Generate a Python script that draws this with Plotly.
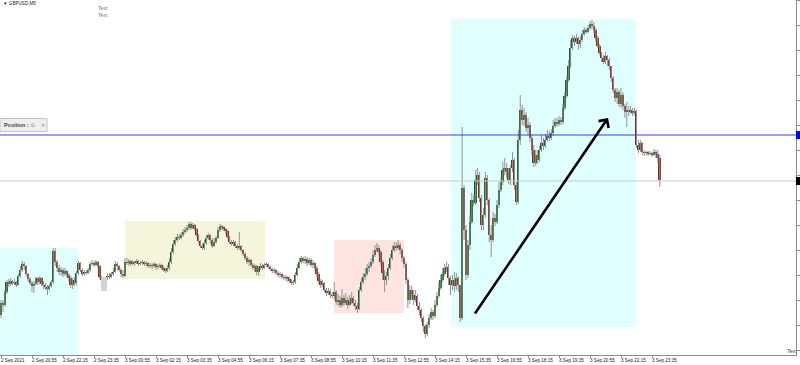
import plotly.graph_objects as go

# ---------------- data (GBPUSD, M5) ----------------
bar_index = list(range(341))

open_ = [
 1.38685,1.38697,1.38695,1.38708,1.38718,1.38716,1.38719,1.38717,1.38718,1.38715,
 1.38724,1.38730,1.38736,1.38734,1.38726,1.38721,1.38717,1.38714,1.38716,1.38722,
 1.38718,1.38722,1.38716,1.38715,1.38713,1.38711,1.38714,1.38718,1.38749,1.38738,
 1.38732,1.38728,1.38730,1.38726,1.38729,1.38725,1.38722,1.38715,1.38720,1.38717,
 1.38727,1.38737,1.38730,1.38726,1.38728,1.38727,1.38730,1.38736,1.38737,1.38735,
 1.38738,1.38734,1.38723,1.38720,1.38718,1.38721,1.38724,1.38723,1.38726,1.38728,
 1.38736,1.38734,1.38730,1.38726,1.38724,1.38738,1.38737,1.38739,1.38736,1.38738,
 1.38737,1.38739,1.38736,1.38737,1.38738,1.38736,1.38737,1.38734,1.38735,1.38734,
 1.38736,1.38733,1.38734,1.38735,1.38732,1.38730,1.38729,1.38732,1.38738,1.38748,
 1.38756,1.38760,1.38763,1.38762,1.38765,1.38768,1.38770,1.38772,1.38776,1.38772,
 1.38775,1.38771,1.38765,1.38759,1.38754,1.38752,1.38757,1.38762,1.38765,1.38760,
 1.38754,1.38758,1.38762,1.38770,1.38774,1.38773,1.38771,1.38769,1.38763,1.38758,
 1.38756,1.38758,1.38754,1.38752,1.38754,1.38750,1.38746,1.38742,1.38738,1.38740,
 1.38735,1.38732,1.38734,1.38728,1.38732,1.38734,1.38732,1.38735,1.38736,1.38733,
 1.38731,1.38729,1.38730,1.38727,1.38725,1.38726,1.38723,1.38722,1.38723,1.38721,
 1.38719,1.38717,1.38718,1.38725,1.38732,1.38738,1.38742,1.38739,1.38741,1.38737,
 1.38740,1.38735,1.38737,1.38732,1.38726,1.38719,1.38715,1.38717,1.38710,1.38707,
 1.38709,1.38705,1.38704,1.38708,1.38698,1.38700,1.38695,1.38702,1.38697,1.38700,
 1.38695,1.38698,1.38702,1.38697,1.38694,1.38691,1.38710,1.38718,1.38723,1.38726,
 1.38732,1.38734,1.38738,1.38745,1.38750,1.38752,1.38748,1.38738,1.38727,1.38720,
 1.38724,1.38732,1.38742,1.38750,1.38754,1.38752,1.38755,1.38750,1.38742,1.38736,
 1.38720,1.38700,1.38710,1.38705,1.38700,1.38704,1.38694,1.38690,1.38682,1.38674,
 1.38666,1.38675,1.38682,1.38688,1.38684,1.38695,1.38704,1.38712,1.38720,1.38726,
 1.38732,1.38733,1.38722,1.38715,1.38720,1.38714,1.38722,1.38715,1.38682,1.38812,
 1.38770,1.38725,1.38755,1.38778,1.38800,1.38797,1.38820,1.38825,1.38802,1.38775,
 1.38785,1.38822,1.38800,1.38765,1.38760,1.38782,1.38778,1.38795,1.38810,1.38818,
 1.38830,1.38832,1.38828,1.38820,1.38832,1.38840,1.38815,1.38798,1.38860,1.38890,
 1.38880,1.38885,1.38872,1.38875,1.38862,1.38850,1.38837,1.38845,1.38840,1.38850,
 1.38857,1.38854,1.38860,1.38864,1.38862,1.38867,1.38874,1.38878,1.38876,1.38880,
 1.38878,1.38892,1.38904,1.38920,1.38934,1.38952,1.38962,1.38958,1.38962,1.38956,
 1.38960,1.38966,1.38970,1.38968,1.38972,1.38976,1.38974,1.38970,1.38962,1.38954,
 1.38947,1.38942,1.38938,1.38944,1.38940,1.38934,1.38922,1.38910,1.38902,1.38908,
 1.38896,1.38905,1.38894,1.38888,1.38890,1.38888,1.38890,1.38887,1.38889,1.38855,
 1.38850,1.38857,1.38848,1.38847,1.38848,1.38846,1.38847,1.38845,1.38848,1.38846,
 1.38842,
]

high = [
 1.38700,1.38700,1.38710,1.38720,1.38721,1.38722,1.38720,1.38721,1.38719,1.38726,
 1.38734,1.38739,1.38738,1.38735,1.38727,1.38723,1.38719,1.38719,1.38723,1.38723,
 1.38724,1.38723,1.38719,1.38717,1.38715,1.38716,1.38720,1.38752,1.38752,1.38740,
 1.38735,1.38733,1.38732,1.38732,1.38730,1.38727,1.38724,1.38722,1.38723,1.38729,
 1.38739,1.38738,1.38732,1.38730,1.38730,1.38732,1.38738,1.38740,1.38739,1.38740,
 1.38739,1.38735,1.38724,1.38722,1.38723,1.38726,1.38727,1.38728,1.38732,1.38739,
 1.38738,1.38735,1.38732,1.38730,1.38742,1.38742,1.38741,1.38740,1.38740,1.38739,
 1.38741,1.38740,1.38739,1.38740,1.38739,1.38739,1.38738,1.38737,1.38737,1.38738,
 1.38737,1.38736,1.38737,1.38736,1.38734,1.38732,1.38735,1.38742,1.38752,1.38760,
 1.38763,1.38766,1.38766,1.38768,1.38771,1.38773,1.38775,1.38778,1.38778,1.38777,
 1.38776,1.38772,1.38766,1.38760,1.38756,1.38760,1.38765,1.38767,1.38766,1.38762,
 1.38762,1.38764,1.38773,1.38776,1.38775,1.38774,1.38772,1.38770,1.38764,1.38760,
 1.38760,1.38759,1.38756,1.38768,1.38755,1.38751,1.38748,1.38744,1.38742,1.38741,
 1.38737,1.38736,1.38735,1.38734,1.38737,1.38736,1.38737,1.38738,1.38737,1.38735,
 1.38732,1.38732,1.38731,1.38729,1.38728,1.38727,1.38725,1.38725,1.38724,1.38723,
 1.38721,1.38720,1.38728,1.38736,1.38742,1.38744,1.38743,1.38744,1.38743,1.38742,
 1.38742,1.38740,1.38738,1.38734,1.38728,1.38721,1.38720,1.38718,1.38712,1.38712,
 1.38711,1.38708,1.38718,1.38710,1.38706,1.38704,1.38711,1.38705,1.38707,1.38703,
 1.38705,1.38708,1.38704,1.38700,1.38697,1.38713,1.38722,1.38727,1.38732,1.38736,
 1.38738,1.38742,1.38750,1.38755,1.38757,1.38755,1.38750,1.38740,1.38730,1.38728,
 1.38736,1.38746,1.38755,1.38758,1.38758,1.38760,1.38757,1.38752,1.38744,1.38738,
 1.38722,1.38715,1.38714,1.38710,1.38710,1.38706,1.38698,1.38692,1.38684,1.38676,
 1.38678,1.38686,1.38692,1.38690,1.38700,1.38708,1.38718,1.38725,1.38732,1.38736,
 1.38738,1.38736,1.38724,1.38725,1.38728,1.38727,1.38724,1.38715,1.38873,1.38815,
 1.38775,1.38760,1.38785,1.38807,1.38805,1.38830,1.38832,1.38828,1.38805,1.38792,
 1.38828,1.38825,1.38802,1.38775,1.38788,1.38786,1.38800,1.38818,1.38822,1.38838,
 1.38842,1.38837,1.38832,1.38835,1.38848,1.38842,1.38818,1.38870,1.38905,1.38895,
 1.38892,1.38888,1.38882,1.38878,1.38865,1.38855,1.38850,1.38850,1.38854,1.38865,
 1.38862,1.38866,1.38870,1.38869,1.38871,1.38880,1.38882,1.38882,1.38884,1.38883,
 1.38896,1.38908,1.38924,1.38940,1.38960,1.38965,1.38964,1.38966,1.38963,1.38964,
 1.38970,1.38973,1.38972,1.38975,1.38979,1.38980,1.38978,1.38972,1.38964,1.38956,
 1.38948,1.38945,1.38948,1.38945,1.38942,1.38934,1.38924,1.38912,1.38912,1.38910,
 1.38912,1.38908,1.38896,1.38898,1.38894,1.38894,1.38892,1.38892,1.38890,1.38860,
 1.38860,1.38858,1.38850,1.38849,1.38849,1.38849,1.38848,1.38851,1.38850,1.38850,
 1.38845,
]

low = [
 1.38682,1.38688,1.38693,1.38706,1.38713,1.38714,1.38715,1.38715,1.38713,1.38714,
 1.38722,1.38728,1.38730,1.38724,1.38718,1.38715,1.38708,1.38707,1.38715,1.38715,
 1.38716,1.38714,1.38711,1.38710,1.38705,1.38709,1.38712,1.38716,1.38734,1.38728,
 1.38725,1.38724,1.38723,1.38724,1.38722,1.38719,1.38712,1.38711,1.38714,1.38715,
 1.38725,1.38728,1.38724,1.38724,1.38725,1.38726,1.38728,1.38734,1.38733,1.38734,
 1.38732,1.38721,1.38717,1.38715,1.38716,1.38720,1.38721,1.38722,1.38724,1.38727,
 1.38730,1.38728,1.38723,1.38722,1.38723,1.38735,1.38734,1.38734,1.38735,1.38734,
 1.38736,1.38734,1.38735,1.38735,1.38734,1.38734,1.38732,1.38732,1.38731,1.38732,
 1.38730,1.38731,1.38732,1.38730,1.38728,1.38727,1.38728,1.38730,1.38736,1.38746,
 1.38754,1.38758,1.38760,1.38761,1.38763,1.38766,1.38768,1.38770,1.38770,1.38771,
 1.38769,1.38763,1.38757,1.38752,1.38750,1.38750,1.38755,1.38760,1.38756,1.38752,
 1.38753,1.38756,1.38761,1.38768,1.38770,1.38769,1.38766,1.38761,1.38756,1.38754,
 1.38754,1.38752,1.38750,1.38750,1.38748,1.38744,1.38740,1.38736,1.38734,1.38733,
 1.38730,1.38728,1.38725,1.38724,1.38730,1.38730,1.38731,1.38733,1.38731,1.38729,
 1.38727,1.38727,1.38725,1.38723,1.38722,1.38721,1.38720,1.38719,1.38718,1.38717,
 1.38715,1.38715,1.38716,1.38724,1.38731,1.38736,1.38737,1.38736,1.38734,1.38735,
 1.38733,1.38732,1.38730,1.38723,1.38716,1.38712,1.38713,1.38708,1.38704,1.38705,
 1.38702,1.38702,1.38700,1.38695,1.38694,1.38692,1.38693,1.38694,1.38695,1.38691,
 1.38694,1.38696,1.38694,1.38690,1.38687,1.38690,1.38708,1.38716,1.38720,1.38724,
 1.38728,1.38732,1.38736,1.38743,1.38748,1.38745,1.38735,1.38720,1.38708,1.38715,
 1.38720,1.38730,1.38740,1.38748,1.38749,1.38750,1.38746,1.38738,1.38732,1.38716,
 1.38692,1.38696,1.38700,1.38695,1.38698,1.38690,1.38685,1.38678,1.38668,1.38662,
 1.38664,1.38672,1.38680,1.38680,1.38682,1.38693,1.38702,1.38710,1.38718,1.38724,
 1.38728,1.38715,1.38705,1.38710,1.38708,1.38710,1.38708,1.38678,1.38680,1.38760,
 1.38720,1.38722,1.38750,1.38776,1.38794,1.38795,1.38815,1.38798,1.38770,1.38770,
 1.38782,1.38795,1.38758,1.38743,1.38758,1.38774,1.38776,1.38792,1.38808,1.38815,
 1.38825,1.38822,1.38816,1.38815,1.38828,1.38810,1.38795,1.38796,1.38855,1.38875,
 1.38874,1.38868,1.38865,1.38858,1.38845,1.38833,1.38834,1.38836,1.38838,1.38848,
 1.38850,1.38852,1.38858,1.38859,1.38860,1.38864,1.38872,1.38873,1.38874,1.38875,
 1.38876,1.38890,1.38902,1.38918,1.38932,1.38950,1.38954,1.38956,1.38950,1.38952,
 1.38958,1.38964,1.38966,1.38967,1.38970,1.38971,1.38967,1.38958,1.38952,1.38945,
 1.38938,1.38936,1.38936,1.38934,1.38930,1.38918,1.38907,1.38898,1.38896,1.38893,
 1.38892,1.38890,1.38882,1.38873,1.38884,1.38886,1.38884,1.38885,1.38852,1.38847,
 1.38848,1.38845,1.38844,1.38845,1.38844,1.38845,1.38843,1.38844,1.38842,1.38838,
 1.38813,
]

close = [
 1.38697,1.38695,1.38708,1.38718,1.38716,1.38719,1.38717,1.38718,1.38715,1.38724,
 1.38730,1.38736,1.38734,1.38726,1.38721,1.38717,1.38714,1.38716,1.38722,1.38718,
 1.38722,1.38716,1.38715,1.38713,1.38711,1.38714,1.38718,1.38749,1.38738,1.38732,
 1.38728,1.38730,1.38726,1.38729,1.38725,1.38722,1.38715,1.38720,1.38717,1.38727,
 1.38737,1.38730,1.38726,1.38728,1.38727,1.38730,1.38736,1.38737,1.38735,1.38738,
 1.38734,1.38723,1.38720,1.38718,1.38721,1.38724,1.38723,1.38726,1.38728,1.38736,
 1.38734,1.38730,1.38726,1.38724,1.38738,1.38737,1.38739,1.38736,1.38738,1.38737,
 1.38739,1.38736,1.38737,1.38738,1.38736,1.38737,1.38734,1.38735,1.38734,1.38736,
 1.38733,1.38734,1.38735,1.38732,1.38730,1.38729,1.38732,1.38738,1.38748,1.38756,
 1.38760,1.38763,1.38762,1.38765,1.38768,1.38770,1.38772,1.38776,1.38772,1.38775,
 1.38771,1.38765,1.38759,1.38754,1.38752,1.38757,1.38762,1.38765,1.38760,1.38754,
 1.38758,1.38762,1.38770,1.38774,1.38773,1.38771,1.38769,1.38763,1.38758,1.38756,
 1.38758,1.38754,1.38752,1.38754,1.38750,1.38746,1.38742,1.38738,1.38740,1.38735,
 1.38732,1.38734,1.38728,1.38732,1.38734,1.38732,1.38735,1.38736,1.38733,1.38731,
 1.38729,1.38730,1.38727,1.38725,1.38726,1.38723,1.38722,1.38723,1.38721,1.38719,
 1.38717,1.38718,1.38725,1.38732,1.38738,1.38742,1.38739,1.38741,1.38737,1.38740,
 1.38735,1.38737,1.38732,1.38726,1.38719,1.38715,1.38717,1.38710,1.38707,1.38709,
 1.38705,1.38704,1.38708,1.38698,1.38700,1.38695,1.38702,1.38697,1.38700,1.38695,
 1.38698,1.38702,1.38697,1.38694,1.38691,1.38710,1.38718,1.38723,1.38726,1.38732,
 1.38734,1.38738,1.38745,1.38750,1.38752,1.38748,1.38738,1.38727,1.38720,1.38724,
 1.38732,1.38742,1.38750,1.38754,1.38752,1.38755,1.38750,1.38742,1.38736,1.38720,
 1.38700,1.38710,1.38705,1.38700,1.38704,1.38694,1.38690,1.38682,1.38674,1.38666,
 1.38675,1.38682,1.38688,1.38684,1.38695,1.38704,1.38712,1.38720,1.38726,1.38732,
 1.38733,1.38722,1.38715,1.38720,1.38714,1.38722,1.38715,1.38682,1.38812,1.38770,
 1.38725,1.38755,1.38778,1.38800,1.38797,1.38820,1.38825,1.38802,1.38775,1.38785,
 1.38822,1.38800,1.38765,1.38760,1.38782,1.38778,1.38795,1.38810,1.38818,1.38830,
 1.38832,1.38828,1.38820,1.38832,1.38840,1.38815,1.38798,1.38860,1.38890,1.38880,
 1.38885,1.38872,1.38875,1.38862,1.38850,1.38837,1.38845,1.38840,1.38850,1.38857,
 1.38854,1.38860,1.38864,1.38862,1.38867,1.38874,1.38878,1.38876,1.38880,1.38878,
 1.38892,1.38904,1.38920,1.38934,1.38952,1.38962,1.38958,1.38962,1.38956,1.38960,
 1.38966,1.38970,1.38968,1.38972,1.38976,1.38974,1.38970,1.38962,1.38954,1.38947,
 1.38942,1.38938,1.38944,1.38940,1.38934,1.38922,1.38910,1.38902,1.38908,1.38896,
 1.38905,1.38894,1.38888,1.38890,1.38888,1.38890,1.38887,1.38889,1.38855,1.38850,
 1.38857,1.38848,1.38847,1.38848,1.38846,1.38847,1.38845,1.38848,1.38846,1.38842,
 1.38820,
]

tick_index = [0, 16, 32, 48, 64, 80, 96, 112, 128, 144, 160, 176, 192, 208,
              224, 240, 256, 272, 288, 304, 320, 336]
tick_text = ["2 Sep 2021", "2 Sep 20:55", "2 Sep 22:15", "2 Sep 23:35",
             "3 Sep 00:55", "3 Sep 02:15", "3 Sep 03:35", "3 Sep 04:55",
             "3 Sep 06:15", "3 Sep 07:35", "3 Sep 08:55", "3 Sep 10:15",
             "3 Sep 11:35", "3 Sep 12:55", "3 Sep 14:15", "3 Sep 15:35",
             "3 Sep 16:55", "3 Sep 18:15", "3 Sep 19:35", "3 Sep 20:55",
             "3 Sep 22:15", "3 Sep 23:35"]

# horizontal levels (price)
blue_level = 1.38865
gray_level = 1.38819

# rectangles: (bar_from, bar_to, price_low, price_high, colour)
zones = [
    (-0.6, 39.7, None, 1.38752, "#E0FFFF"),
    (64.0, 136.3, 1.38721, 1.38779, "#F5F5DC"),
    (171.9, 208.0, 1.38687, 1.38760, "#FFE4E1"),
    (232.3, 327.7, 1.38673, 1.38981, "#E0FFFF"),
]
gap_zone = (51.6, 54.7, 1.38709, 1.38723)

# trend arrow (bar, price) tail -> head
arrow_from = (244.1, 1.38685)
arrow_to = (313.3, 1.38882)

# ---------------- figure ----------------
X_RANGE = [-0.516, 410.32]
Y_RANGE = [1.38645, 1.39000]
PLOT_W, PLOT_H = 796, 355

UP_COL = "#17621f"
DN_COL = "#8a2818"
WICK_COL = "#929292"

fig = go.Figure()

# wicks
wx, wy = [], []
for i, h, l in zip(bar_index, high, low):
    wx += [i, i, None]
    wy += [l, h, None]
fig.add_trace(go.Scatter(x=wx, y=wy, mode="lines",
                         line=dict(color=WICK_COL, width=1),
                         hoverinfo="skip", showlegend=False))

# bodies
bases = [min(o, c) for o, c in zip(open_, close)]
heights = [abs(c - o) for o, c in zip(open_, close)]
cols = [UP_COL if c >= o else DN_COL for o, c in zip(open_, close)]
fig.add_trace(go.Bar(x=bar_index, y=heights, base=bases, width=0.85,
                     marker=dict(color=cols, line=dict(width=0)),
                     hoverinfo="skip", showlegend=False))

shapes = []
for x0, x1, y0, y1, col in zones:
    if y0 is None:
        shapes.append(dict(type="rect", xref="x", yref="paper", x0=x0, x1=x1,
                           y0=0, y1=(y1 - Y_RANGE[0]) / (Y_RANGE[1] - Y_RANGE[0]),
                           fillcolor=col, line=dict(width=0), layer="below"))
    else:
        shapes.append(dict(type="rect", xref="x", yref="y", x0=x0, x1=x1,
                           y0=y0, y1=y1, fillcolor=col, line=dict(width=0),
                           layer="below"))
shapes.append(dict(type="rect", xref="x", yref="y", x0=gap_zone[0], x1=gap_zone[1],
                   y0=gap_zone[2], y1=gap_zone[3], fillcolor="#D3D3D3",
                   line=dict(width=0), layer="above"))

# levels
shapes.append(dict(type="line", xref="paper", yref="y", x0=0, x1=1,
                   y0=gray_level, y1=gray_level, line=dict(color="#C8C8C8", width=1)))
shapes.append(dict(type="line", xref="paper", yref="y", x0=0, x1=1,
                   y0=blue_level, y1=blue_level, line=dict(color="#3a3aff", width=1)))
# price-scale markers
shapes.append(dict(type="rect", xref="paper", yref="y", x0=1.0, x1=1.0 + 4 / PLOT_W,
                   y0=blue_level - 0.00004, y1=blue_level + 0.00004,
                   fillcolor="#0000FF", line=dict(width=0)))
shapes.append(dict(type="rect", xref="paper", yref="y", x0=1.0, x1=1.0 + 4 / PLOT_W,
                   y0=gray_level - 0.00004, y1=gray_level + 0.00004,
                   fillcolor="#000000", line=dict(width=0)))


def px(xp):
    return xp / PLOT_W


def py(yp):
    return 1 - yp / PLOT_H


# "Position" panel
shapes.append(dict(type="rect", xref="paper", yref="paper", x0=px(0), x1=px(47),
                   y0=py(131.5), y1=py(118.5), fillcolor="#EEEEEE",
                   line=dict(color="#C4C4C4", width=1)))

annotations = []
# arrow
annotations.append(dict(x=arrow_to[0], y=arrow_to[1], ax=arrow_from[0], ay=arrow_from[1],
                        xref="x", yref="y", axref="x", ayref="y", text="",
                        showarrow=True, arrowhead=4, arrowsize=0.9, arrowwidth=2.6,
                        arrowcolor="#000000", standoff=0, startstandoff=0))

# time labels
for tv, tt in zip(tick_index, tick_text):
    annotations.append(dict(x=tv, y=0, xref="x", yref="paper", text=tt,
                            xanchor="left", yanchor="top", xshift=-2, yshift=-1,
                            showarrow=False,
                            font=dict(family="Liberation Sans", size=4.6, color="#222222")))

annotations += [
    dict(x=px(1), y=py(4), xref="paper", yref="paper", text="▼ GBPUSD,M5",
         xanchor="left", yanchor="middle", showarrow=False,
         font=dict(family="Liberation Sans", size=4.6, color="#222222")),
    dict(x=px(96), y=py(8.5), xref="paper", yref="paper", text="Text",
         xanchor="left", yanchor="middle", showarrow=False,
         font=dict(family="Liberation Sans", size=5.2, color="#777777")),
    dict(x=px(96), y=py(15), xref="paper", yref="paper", text="Text",
         xanchor="left", yanchor="middle", showarrow=False,
         font=dict(family="Liberation Sans", size=5.2, color="#777777")),
    dict(x=px(2), y=py(125), xref="paper", yref="paper", text="<b>Position :</b>",
         xanchor="left", yanchor="middle", showarrow=False,
         font=dict(family="Liberation Sans", size=5.4, color="#444444")),
    dict(x=px(29), y=py(125), xref="paper", yref="paper", text="⧉",
         xanchor="left", yanchor="middle", showarrow=False,
         font=dict(family="DejaVu Sans", size=5, color="#888888")),
    dict(x=px(39), y=py(125), xref="paper", yref="paper", text="✕",
         xanchor="left", yanchor="middle", showarrow=False,
         font=dict(family="DejaVu Sans", size=5, color="#888888")),
    dict(x=px(785), y=py(351), xref="paper", yref="paper", text="Tex",
         xanchor="left", yanchor="middle", showarrow=False,
         font=dict(family="Liberation Sans", size=5.6, color="#333333")),
]

fig.update_layout(
    width=800, height=365, autosize=False,
    margin=dict(l=0, r=4, t=0, b=10, pad=0),
    paper_bgcolor="white", plot_bgcolor="white",
    showlegend=False, bargap=0, barmode="overlay",
    shapes=shapes, annotations=annotations,
    xaxis=dict(range=X_RANGE, showgrid=False, zeroline=False,
               showline=True, linecolor="#8c8c8c", linewidth=1,
               tickmode="array", tickvals=tick_index, ticktext=[""] * len(tick_index),
               ticks="outside", ticklen=2, tickcolor="#8c8c8c", tickwidth=1,
               showticklabels=False, fixedrange=True),
    yaxis=dict(range=Y_RANGE, side="right", showgrid=False, zeroline=False,
               showline=True, linecolor="#8c8c8c", linewidth=1,
               ticks="outside", ticklen=3, tickcolor="#8c8c8c", dtick=0.00025,
               tick0=1.38650, showticklabels=False, fixedrange=True),
    hovermode=False,
)

fig.write_html("out.html")
